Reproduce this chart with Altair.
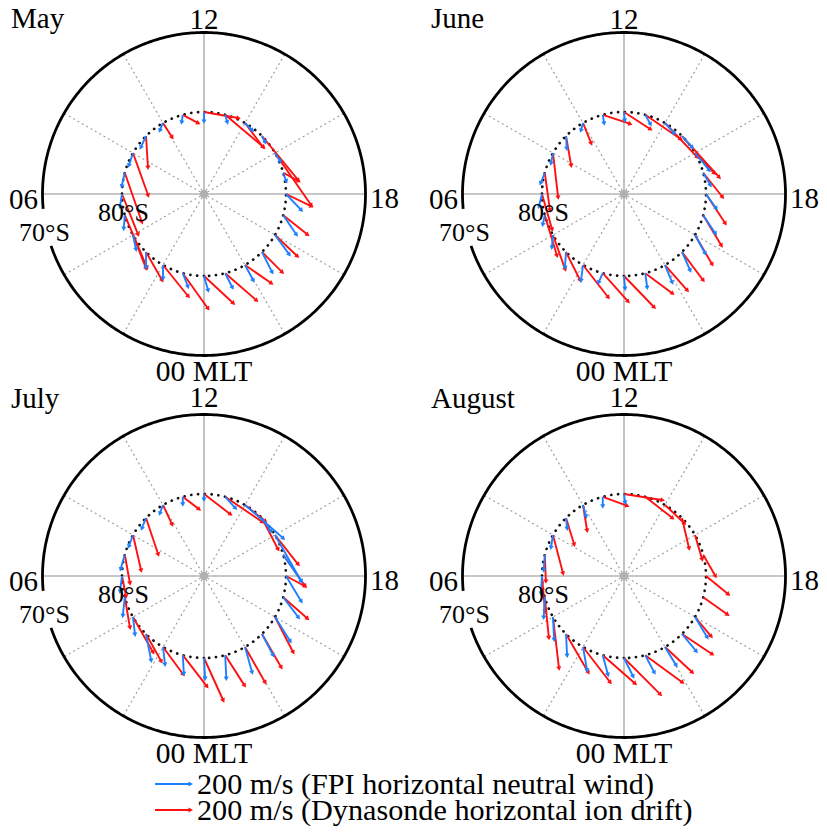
import math
import pandas as pd
import altair as alt

MONTHS = ["May", "June", "July", "August"]
MLT_HOURS = list(range(24))

# Velocity components read from the dials, in m/s.
# vx: toward 18 MLT (right of the dial), vy: toward 12 MLT (top of the dial).
# FPI horizontal neutral wind
may_fpi_vx = [23, 29, 0, 0, 17, -6, -11, -17, -23, -29, -17, -6, 0, 11, 40, 17, 29, 17, 86, 74, 80, 57, 46, 40]
may_fpi_vy = [-80, -74, -74, -86, -80, -74, -69, -74, -69, -63, -40, -40, -51, -40, -40, -34, -46, -46, -91, -109, -109, -114, -86, -80]
jun_fpi_vx = [6, -23, -11, -6, -6, -11, -17, -23, -11, 4, -11, 7, 4, 29, 51, 57, 80, 40, 57, 69, 57, 46, 40, 11]
jun_fpi_vy = [-69, -51, -86, -86, -69, -51, -69, -57, -57, -69, -40, -46, -46, -51, -57, -63, -97, -69, -80, -103, -103, -103, -97, -80]
jul_fpi_vx = [6, 6, 11, 29, 11, -11, -11, -23, -23, -23, -17, 0, 0, 57, 217, 51, 149, 103, 86, 86, 86, 63, 40, 6]
jul_fpi_vy = [-114, -103, -97, -149, -97, -103, -86, -80, -63, -57, -46, -40, -29, -63, -189, -74, -263, -149, -143, -114, -137, -120, -143, -131]
aug_fpi_vx = [51, 29, 23, 6, 6, -6, -6, -6, -11, 6, 17, 0, 6, None, None, None, None, None, None, None, 69, 80, 63, 51]
aug_fpi_vy = [-103, -109, -131, -120, -126, -114, -97, -86, -69, -57, -63, -51, -46, None, None, None, None, None, None, None, -114, -97, -103, -97]

# Dynasonde horizontal ion drift
may_dyn_vx = [166, 143, 143, 91, 74, 126, 91, 97, 86, 11, 51, 86, 194, 217, 103, 206, 206, 86, 143, 137, 126, 114, 149, 177]
may_dyn_vy = [-154, -200, -177, -160, -189, -297, -229, -280, -240, -177, -80, -46, -34, -183, -137, -251, -297, -46, -69, -109, -120, -114, -103, -154]
jun_dyn_vx = [171, 143, 143, 80, 69, 69, 57, 29, 29, 29, 46, 154, 149, 200, 183, 211, 109, 109, 109, 103, 97, 120, 126, 154]
jun_dyn_vy = [-177, -160, -183, -160, -194, -229, -200, -211, -251, -166, -114, -51, -97, -137, -194, -234, -114, -137, -166, -171, -166, -160, -143, -114]
jul_dyn_vx = [109, 137, 114, 86, 114, 29, 23, 29, 46, 69, 51, 91, 149, 211, 114, 91, 131, 124, 106, 137, 103, 109, 114, 109]
jul_dyn_vy = [-240, -177, -154, -154, -200, -171, -114, -160, -200, -206, -109, -69, -114, -143, -91, -177, -166, -177, -57, -120, -200, -189, -200, -171]
aug_dyn_vx = [206, 183, 154, 126, 34, 23, 17, 6, 57, 46, 23, 137, 217, 154, 109, 40, 40, 69, 126, 137, 91, 171, 154, 211]
aug_dyn_vy = [-206, -160, -200, -217, -291, -229, -200, -149, -217, -149, -143, -51, -34, -120, -103, -171, -137, -120, -103, -97, -109, -114, -143, -154]

FPI = {"May": (may_fpi_vx, may_fpi_vy), "June": (jun_fpi_vx, jun_fpi_vy),
       "July": (jul_fpi_vx, jul_fpi_vy), "August": (aug_fpi_vx, aug_fpi_vy)}
DYN = {"May": (may_dyn_vx, may_dyn_vy), "June": (jun_dyn_vx, jun_dyn_vy),
       "July": (jul_dyn_vx, jul_dyn_vy), "August": (aug_dyn_vx, aug_dyn_vy)}

LEGEND_LABELS = ["200 m/s (FPI horizontal neutral wind)", "200 m/s (Dynasonde horizontal ion drift)"]
LEGEND_SPEED = 200

# ---- layout (page pixels) ----
BLUE = "#1f80ff"
RED = "#ff1010"
PX_PER_MS = 35.0 / 200.0
R_OUT = 161.5
R_TRACK = 82
CENTERS = {"May": (204, 194), "June": (624, 194), "July": (204, 576), "August": (624, 576)}
TOP_ROW = {"May": True, "June": True, "July": False, "August": False}
FONT = "Liberation Serif"


def pos(cx, cy, mlt, r):
    th = math.radians((mlt - 12) * 15)
    return cx + r * math.sin(th), cy - r * math.cos(th)


outer_rows, track_rows, axis_rows, grid_rows, center_rows, text_rows = [], [], [], [], [], []
for m in MONTHS:
    cx, cy = CENTERS[m]
    n = 400
    a0, a1 = 5.65, 4.75 + 24
    for i in range(n + 1):
        t = a0 + (a1 - a0) * i / n
        x, y = pos(cx, cy, t, R_OUT)
        outer_rows.append(dict(month=m, i=i, x=x, y=y))
    for i in range(481):
        t = 24 * i / 480
        x, y = pos(cx, cy, t, R_TRACK)
        track_rows.append(dict(month=m, i=i, x=x, y=y))
    for h in [0, 6, 12, 18]:
        x2, y2 = pos(cx, cy, h, R_OUT)
        axis_rows.append(dict(x=cx, y=cy, x2=x2, y2=y2))
    for h in [2, 4, 8, 10, 14, 16, 20, 22]:
        x1, y1 = pos(cx, cy, h, 4)
        x2, y2 = pos(cx, cy, h, R_OUT - 1)
        grid_rows.append(dict(x=x1, y=y1, x2=x2, y2=y2))
    center_rows.append(dict(x=cx, y=cy))
    top = TOP_ROW[m]
    text_rows += [
        dict(t="12", x=cx, y=cy - (165 if top else 169), a="center", s=29),
        dict(t="18", x=cx + 166, y=cy + 14, a="left", s=29),
        dict(t="06", x=cx - 166, y=cy + 15, a="right", s=29),
        dict(t="00 MLT", x=cx, y=cy + 187, a="center", s=29.5),
        dict(t=m, x=cx - 193, y=cy - (166 if top else 168), a="left", s=29),
        dict(t="70°S", x=cx - 185, y=cy + 47, a="left", s=26),
        dict(t="80°S", x=cx - 106, y=cy + 27, a="left", s=26),
    ]

arrow_rows = []
for src, table in (("dyn", DYN), ("fpi", FPI)):
    for m in MONTHS:
        cx, cy = CENTERS[m]
        vx, vy = table[m]
        for h, u, v in zip(MLT_HOURS, vx, vy):
            if u is None or v is None:
                continue
            x0, y0 = pos(cx, cy, h, R_TRACK)
            dx = u * PX_PER_MS
            dy = -v * PX_PER_MS
            ang = math.degrees(math.atan2(dx, -dy)) % 360
            arrow_rows.append(dict(src=src, x=x0, y=y0, x2=x0 + dx, y2=y0 + dy, ang=ang))

leg_rows = []
for k, (lab, src) in enumerate(zip(LEGEND_LABELS, ["fpi", "dyn"])):
    y = 784 + 26 * k
    x0 = 155
    leg_rows.append(dict(src=src, x=x0, y=y, x2=x0 + LEGEND_SPEED * PX_PER_MS, y2=y, ang=90.0, t=lab, tx=197, ty=y + 9.5))

outer = pd.DataFrame(outer_rows)
track = pd.DataFrame(track_rows)
axes_df = pd.DataFrame(axis_rows)
grid_df = pd.DataFrame(grid_rows)
cent_df = pd.DataFrame(center_rows)
text_df = pd.DataFrame(text_rows)
arr_df = pd.DataFrame(arrow_rows + [{k: r[k] for k in ("src", "x", "y", "x2", "y2", "ang")} for r in leg_rows])
leg_df = pd.DataFrame(leg_rows)

xs = alt.Scale(domain=[8, 819], nice=False, zero=False)
ys = alt.Scale(domain=[8, 826], nice=False, zero=False, reverse=True)


def X(f="x"):
    return alt.X(f"{f}:Q", scale=xs, axis=None)


def Y(f="y"):
    return alt.Y(f"{f}:Q", scale=ys, axis=None)


col = alt.Color("src:N", scale=alt.Scale(domain=["fpi", "dyn"], range=[BLUE, RED]), legend=None)

grid = alt.Chart(grid_df).mark_rule(color="#a0a0a0", strokeWidth=1.2, strokeDash=[2, 3]).encode(
    x=X(), y=Y(), x2="x2:Q", y2="y2:Q")
axes = alt.Chart(axes_df).mark_rule(color="#b4b4b4", strokeWidth=1.6).encode(
    x=X(), y=Y(), x2="x2:Q", y2="y2:Q")
cent = alt.Chart(cent_df).mark_point(filled=True, color="#b0b0b0", size=70, opacity=1).encode(x=X(), y=Y())
outer_l = alt.Chart(outer).mark_line(color="black", strokeWidth=2.8).encode(
    x=X(), y=Y(), order="i:Q", detail="month:N")
track_l = alt.Chart(track).mark_line(color="#111111", strokeWidth=2.7, strokeDash=[0.1, 6.7], strokeCap="round").encode(
    x=X(), y=Y(), order="i:Q", detail="month:N")


def shafts(src):
    return alt.Chart(arr_df[arr_df.src == src]).mark_rule(strokeWidth=1.9).encode(
        x=X(), y=Y(), x2="x2:Q", y2="y2:Q", color=col)


def heads(src):
    return alt.Chart(arr_df[arr_df.src == src]).mark_point(shape="triangle", filled=True, size=26, opacity=1).encode(
        x=X("x2"), y=Y("y2"), angle=alt.Angle("ang:Q", scale=None), color=col)


def txt(df, align):
    return alt.Chart(df[df.a == align]).mark_text(font=FONT, color="black", baseline="alphabetic", align=align).encode(
        x=X(), y=Y(), text="t:N", size=alt.Size("s:Q", scale=None))


leg_text = alt.Chart(leg_df).mark_text(font=FONT, color="black", baseline="alphabetic", align="left", fontSize=30.2).encode(
    x=X("tx"), y=Y("ty"), text="t:N")

chart = alt.layer(
    grid, axes, outer_l, track_l, cent,
    shafts("dyn"), heads("dyn"), shafts("fpi"), heads("fpi"),
    txt(text_df, "center"), txt(text_df, "left"), txt(text_df, "right"), leg_text,
).properties(
    width=811, height=818, padding=0, autosize=alt.AutoSizeParams(type="none")
).configure_view(stroke=None)

chart.save("out.html", embed_options={"renderer": "svg", "actions": False})
